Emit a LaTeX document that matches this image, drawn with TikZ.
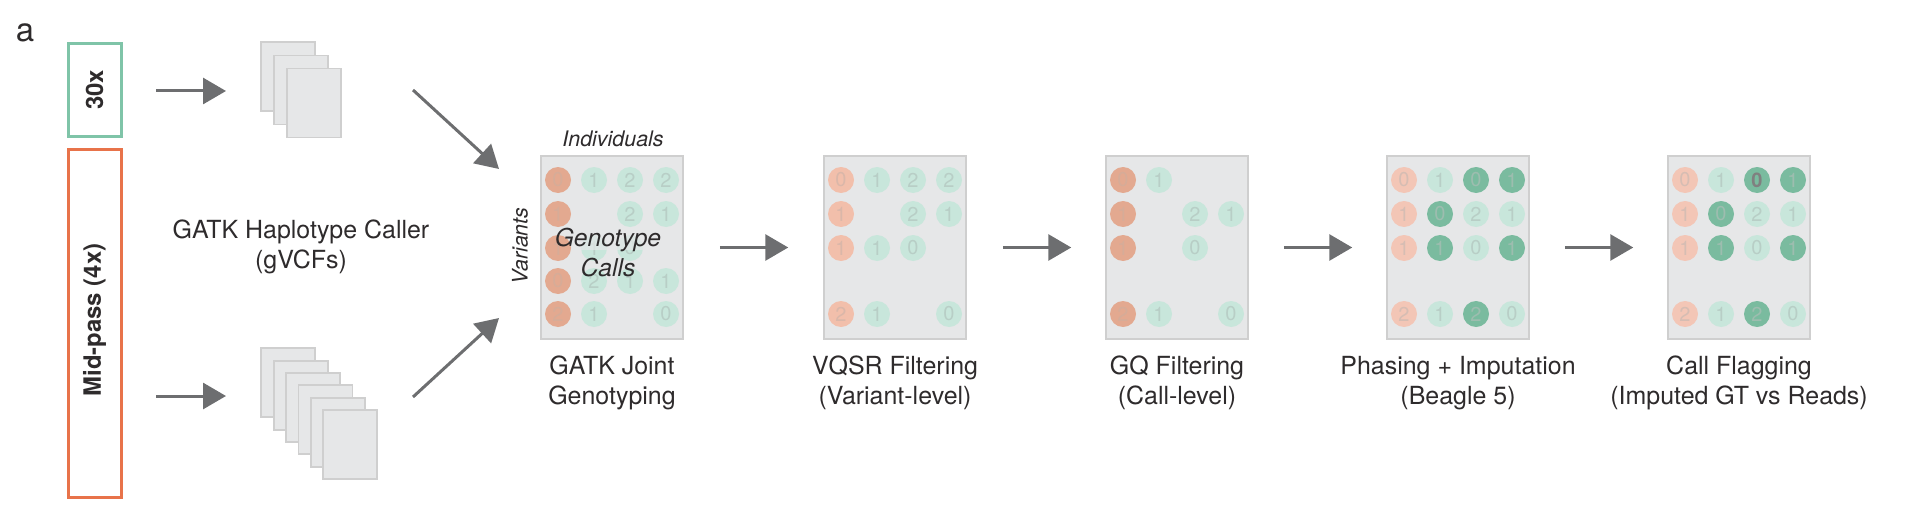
\documentclass[tikz,border=0pt]{standalone}
\usepackage{fontspec}
\setmainfont{TeX Gyre Heros}
\usetikzlibrary{arrows.meta}
\definecolor{panelfill}{HTML}{E6E7E8}
\definecolor{paneledge}{HTML}{CFCFCF}
\definecolor{flowgray}{HTML}{6D6E70}
\definecolor{inkgray}{HTML}{2E2B2C}
\definecolor{boxgreen}{HTML}{7FC4A8}
\definecolor{boxorange}{HTML}{E8734A}
\definecolor{refstrong}{HTML}{E3A990}
\definecolor{refsoft}{HTML}{F2BFAB}
\definecolor{refpale}{HTML}{F3C6B6}
\definecolor{altpale}{HTML}{C8E6DB}
\definecolor{altdeep}{HTML}{7ABB9F}
\definecolor{digitstrong}{HTML}{D6AC98}
\definecolor{digitsoft}{HTML}{DAB7A9}
\definecolor{digitpale}{HTML}{D6BDB3}
\definecolor{digitalt}{HTML}{B8CEC6}
\definecolor{digitdeep}{HTML}{9DBDAF}
\tikzset{
	flow/.style={line width=0.03cm, color=flowgray, -{Triangle[length=0.23cm, width=0.26cm]}},
	sheet/.style={draw=paneledge, fill=panelfill, line width=0.015cm, minimum width=0.54cm, minimum height=0.69cm, inner sep=0},
	panel/.style={draw=paneledge, fill=panelfill, line width=0.015cm, minimum width=1.42cm, minimum height=1.83cm, inner sep=0},
	cohort/.style={line width=0.03cm, minimum width=0.53cm, inner sep=0},
	caption/.style={font=\fontsize{7.1}{8.6}\selectfont, text=inkgray, align=center, inner sep=0},
	axis/.style={font=\fontsize{6.1}{7.4}\selectfont\itshape, text=inkgray, inner sep=0},
	dot/.style={circle, minimum size=0.26cm, inner sep=0, font=\fontsize{5.7}{6}\selectfont},
	rs/.style={dot, fill=refstrong, text=digitstrong},
	rf/.style={dot, fill=refsoft, text=digitsoft},
	rp/.style={dot, fill=refpale, text=digitpale},
	ap/.style={dot, fill=altpale, text=digitalt},
	ad/.style={dot, fill=altdeep, text=digitdeep}
}
\def\call[#1](#2)(#3,#4)#5{\node[#1] (#2) at (#3, #4) {#5};}

\begin{document}
\begin{tikzpicture}
			%%%%% START %%%%%
			\useasboundingbox (0, 0) rectangle (19.18, 5.28);
			
			\node[font=\fontsize{9.4}{10}\selectfont, text=inkgray, inner sep=0] (tag) at (0.25, 4.95) {a};
			
			\node[cohort, draw=boxgreen, minimum height=0.93cm] (deep) at (0.945, 4.375) {};
			\node[rotate=90, font=\fontsize{6.8}{8}\selectfont\bfseries, text=inkgray, inner sep=0] (deeplabel) at (0.945, 4.38) {30x};
			\node[cohort, draw=boxorange, minimum height=3.47cm] (mid) at (0.945, 2.045) {};
			\node[rotate=90, font=\fontsize{6.8}{8}\selectfont\bfseries, text=inkgray, inner sep=0] (midlabel) at (0.945, 2.08) {Mid-pass (4x)};
			
			\node[sheet] (s1) at (2.88, 4.515) {};
			\node[sheet] (s2) at (3.01, 4.38) {};
			\node[sheet] (s3) at (3.14, 4.25) {};
			
			\node[sheet] (t1) at (2.88, 1.455) {};
			\node[sheet] (t2) at (3.01, 1.325) {};
			\node[sheet] (t3) at (3.13, 1.205) {};
			\node[sheet] (t4) at (3.255, 1.085) {};
			\node[sheet] (t5) at (3.38, 0.955) {};
			\node[sheet] (t6) at (3.50, 0.835) {};
			
			\node[caption] (callerlabel) at (3.01, 2.81) {GATK Haplotype Caller\\(gVCFs)};
			
			\coordinate (deepout) at (1.56, 4.37);
			\coordinate (deepin) at (2.26, 4.37);
			\coordinate (midout) at (1.56, 1.32);
			\coordinate (midin) at (2.26, 1.32);
			\coordinate (upperout) at (4.13, 4.38);
			\coordinate (upperin) at (4.99, 3.59);
			\coordinate (lowerout) at (4.13, 1.31);
			\coordinate (lowerin) at (4.99, 2.10);
			\draw[flow] (deepout) -- (deepin);
			\draw[flow] (midout) -- (midin);
			\draw[flow] (upperout) -- (upperin);
			\draw[flow] (lowerout) -- (lowerin);
			
			\node[panel] (p1) at (6.12, 2.805) {};
			\node[panel] (p2) at (8.95, 2.805) {};
			\node[panel] (p3) at (11.77, 2.805) {};
			\node[panel] (p4) at (14.58, 2.805) {};
			\node[panel] (p5) at (17.39, 2.805) {};
			
			\draw[flow, shorten <=0.36cm, shorten >=0.35cm] (p1) -- (p2);
			\draw[flow, shorten <=0.36cm, shorten >=0.34cm] (p2) -- (p3);
			\draw[flow, shorten <=0.35cm, shorten >=0.34cm] (p3) -- (p4);
			\draw[flow, shorten <=0.35cm, shorten >=0.34cm] (p4) -- (p5);
			
			% first panel
			\call[rs](a1)(5.58,3.48){0} \call[ap](a2)(5.94,3.48){1} \call[ap](a3)(6.30,3.48){2} \call[ap](a4)(6.66,3.48){2}
			\call[rs](a5)(5.58,3.14){1} \call[ap](a6)(6.30,3.14){2} \call[ap](a7)(6.66,3.14){1}
			\call[rs](a8)(5.58,2.80){1} \call[ap](a9)(5.94,2.80){1} \call[ap](a10)(6.30,2.80){0}
			\call[rs](a11)(5.58,2.47){0} \call[ap](a12)(5.94,2.47){2} \call[ap](a13)(6.30,2.47){1} \call[ap](a14)(6.66,2.47){1}
			\call[rs](a15)(5.58,2.14){2} \call[ap](a16)(5.94,2.14){1} \call[ap](a17)(6.66,2.14){0}
			
			% second panel
			\call[rf](b1)(8.41,3.48){0} \call[ap](b2)(8.77,3.48){1} \call[ap](b3)(9.13,3.48){2} \call[ap](b4)(9.49,3.48){2}
			\call[rf](b5)(8.41,3.14){1} \call[ap](b6)(9.13,3.14){2} \call[ap](b7)(9.49,3.14){1}
			\call[rf](b8)(8.41,2.80){1} \call[ap](b9)(8.77,2.80){1} \call[ap](b10)(9.13,2.80){0}
			\call[rf](b11)(8.41,2.14){2} \call[ap](b12)(8.77,2.14){1} \call[ap](b13)(9.49,2.14){0}
			
			% third panel
			\call[rs](c1)(11.23,3.48){0} \call[ap](c2)(11.59,3.48){1}
			\call[rs](c3)(11.23,3.14){1} \call[ap](c4)(11.95,3.14){2} \call[ap](c5)(12.31,3.14){1}
			\call[rs](c6)(11.23,2.80){1} \call[ap](c7)(11.95,2.80){0}
			\call[rs](c8)(11.23,2.14){2} \call[ap](c9)(11.59,2.14){1} \call[ap](c10)(12.31,2.14){0}
			
			% fourth panel
			\call[rp](d1)(14.04,3.48){0} \call[ap](d2)(14.40,3.48){1} \call[ad](d3)(14.76,3.48){0} \call[ad](d4)(15.12,3.48){1}
			\call[rp](d5)(14.04,3.14){1} \call[ad](d6)(14.40,3.14){0} \call[ap](d7)(14.76,3.14){2} \call[ap](d8)(15.12,3.14){1}
			\call[rp](d9)(14.04,2.80){1} \call[ad](d10)(14.40,2.80){1} \call[ap](d11)(14.76,2.80){0} \call[ad](d12)(15.12,2.80){1}
			\call[rp](d13)(14.04,2.14){2} \call[ap](d14)(14.40,2.14){1} \call[ad](d15)(14.76,2.14){2} \call[ap](d16)(15.12,2.14){0}
			
			% fifth panel
			\call[rp](e1)(16.85,3.48){0} \call[ap](e2)(17.21,3.48){1} \call[ad, text=black!50, font=\fontsize{5.7}{6}\selectfont\bfseries](e3)(17.57,3.48){0} \call[ad](e4)(17.93,3.48){1}
			\call[rp](e5)(16.85,3.14){1} \call[ad](e6)(17.21,3.14){0} \call[ap](e7)(17.57,3.14){2} \call[ap](e8)(17.93,3.14){1}
			\call[rp](e9)(16.85,2.80){1} \call[ad](e10)(17.21,2.80){1} \call[ap](e11)(17.57,2.80){0} \call[ad](e12)(17.93,2.80){1}
			\call[rp](e13)(16.85,2.14){2} \call[ap](e14)(17.21,2.14){1} \call[ad](e15)(17.57,2.14){2} \call[ap](e16)(17.93,2.14){0}
			
			\node[axis] (indiv) at (6.13, 3.89) {Individuals};
			\node[axis, rotate=90] (vars) at (5.20, 2.82) {Variants};
			\node[fill=panelfill, fill opacity=0.7, minimum width=0.66cm, minimum height=0.18cm, inner sep=0] (gthaze) at (6.12, 2.87) {};
			\node[caption, font=\fontsize{7}{8.3}\selectfont\itshape] (gtcalls) at (6.08, 2.755) {Genotype\\Calls};
			
			\node[caption] (jointlabel) at (6.12, 1.45) {GATK Joint\\Genotyping};
			\node[caption] (vqsrlabel) at (8.95, 1.45) {VQSR Filtering\\(Variant-level)};
			\node[caption] (gqlabel) at (11.77, 1.45) {GQ Filtering\\(Call-level)};
			\node[caption] (phaselabel) at (14.58, 1.45) {Phasing + Imputation\\(Beagle 5)};
			\node[caption] (flaglabel) at (17.39, 1.45) {Call Flagging\\(Imputed GT vs Reads)};
			%%%%% END %%%%%
		\end{tikzpicture}
\end{document}
